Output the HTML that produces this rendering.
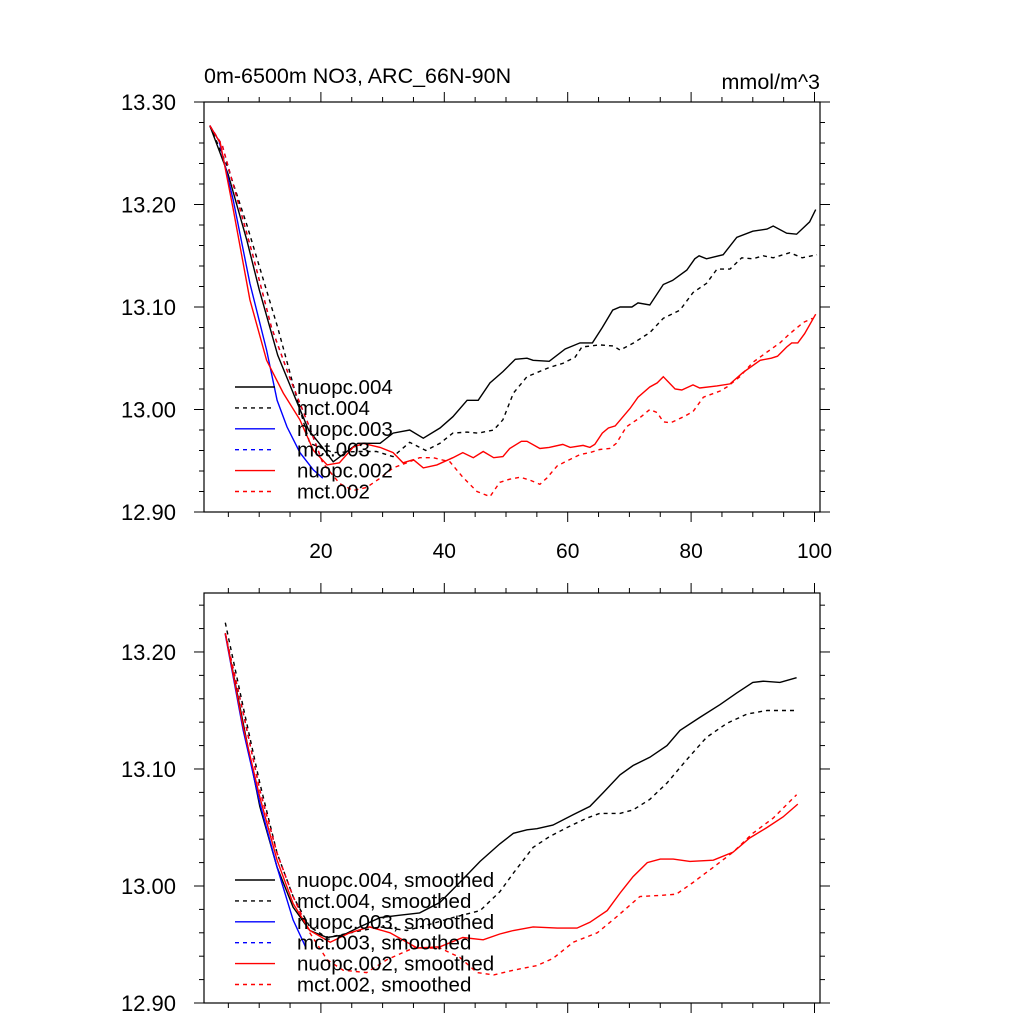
<!DOCTYPE html>
<html><head><meta charset="utf-8"><style>
body{margin:0;background:#fff;}
svg{display:block;font-family:"Liberation Sans",sans-serif;}
</style></head><body>
<svg id="chart" width="1024" height="1024" viewBox="0 0 1024 1024">
<text x="204" y="83" font-size="21.5">0m-6500m NO3, ARC_66N-90N</text>
<text x="820" y="89" font-size="21.5" text-anchor="end">mmol/m^3</text>
</svg>
<script>
// ---- top panel data (raw) ----
const n004X=[2,5,8,10,13,16,18,20,22,26,29.6,31.7,34.4,36.6,39.3,41.4,43.7,45.5,47.4,49.5,51.5,53.4,54.4,57,59.6,62,64,65.6,67.3,68.5,70.4,71.4,73.3,75.5,77,79.3,80.6,81.3,82.5,85.2,87.4,90,92.3,93.3,95.5,97.1,99.2,100.2];
const n004Y=[13.277,13.229,13.165,13.117,13.053,13.009,12.98,12.965,12.949,12.967,12.967,12.977,12.98,12.972,12.982,12.993,13.009,13.009,13.026,13.037,13.049,13.05,13.048,13.047,13.059,13.065,13.065,13.08,13.097,13.1,13.1,13.104,13.102,13.122,13.126,13.136,13.147,13.15,13.147,13.151,13.168,13.174,13.176,13.179,13.172,13.171,13.183,13.195];
const m004X=[2,5,8,13,16.6,18.2,22,26,29,31.7,34.4,37,39.3,41.4,43.7,45.5,48,49.5,51.2,53.4,55,57,59.2,61.2,62.3,65.2,67.4,68.5,70.7,73.3,75.5,78.2,80.3,82.5,84.2,86.3,88.2,90,91.7,93.3,96,98,100.4];
const m004Y=[13.277,13.235,13.18,13.08,13.0,12.967,12.958,12.959,12.959,12.954,12.968,12.96,12.967,12.977,12.978,12.977,12.98,12.99,13.016,13.032,13.036,13.041,13.045,13.051,13.061,13.063,13.062,13.058,13.065,13.075,13.089,13.097,13.114,13.123,13.137,13.137,13.148,13.147,13.15,13.148,13.153,13.148,13.151];
const n003X=[2,3.5,5.8,8.5,11.2,12.9,14.5,16.6,18.8,20.3];
const n003Y=[13.277,13.262,13.204,13.123,13.058,13.009,12.983,12.958,12.941,12.933];
const m003X=[2,4,6,9,12,15,18,20.3];
const m003Y=[13.277,13.258,13.215,13.15,13.08,13.03,12.985,12.948];
const n002X=[2,3.7,5.8,8.5,11.2,13.9,16.6,18.8,21,23,25.2,26.8,29.6,31.7,33.3,35,36.6,38.8,41.4,43,44.7,46.3,48,49.5,50.6,52.5,53.4,55.5,57,59.2,60.4,62.5,63.6,64.4,65.6,66.6,67.7,70.1,71.4,73.3,74.5,75.5,77.4,78.5,80.3,81.4,84.2,86.3,88.4,91.2,93,94,95.5,96.3,97.3,98.4,100.2];
const n002Y=[13.277,13.26,13.195,13.107,13.048,13.016,12.99,12.96,12.946,12.948,12.963,12.967,12.963,12.958,12.948,12.951,12.943,12.946,12.953,12.958,12.953,12.959,12.953,12.954,12.962,12.969,12.969,12.962,12.963,12.966,12.963,12.965,12.963,12.966,12.977,12.982,12.984,13.001,13.012,13.022,13.026,13.032,13.02,13.019,13.024,13.021,13.023,13.025,13.036,13.048,13.05,13.052,13.061,13.065,13.065,13.074,13.093];
const m002X=[2,4,6,9,12,15,18,20.3,23,25.2,27.4,29.6,31.7,33.9,36,38.2,40.9,43,45.3,47.4,49,50.6,52.3,53.9,55.5,56.6,58.3,59.9,62,63.6,65.2,66.8,67.9,69.5,71.7,73.3,74.5,75.5,76.7,78.8,80.3,82,84.7,85.8,87.9,90,92.3,94.4,96,98.2,99.7];
const m002Y=[13.277,13.258,13.215,13.15,13.08,13.03,12.985,12.948,12.928,12.921,12.924,12.933,12.943,12.948,12.953,12.953,12.949,12.934,12.92,12.915,12.929,12.932,12.934,12.931,12.927,12.933,12.945,12.95,12.956,12.958,12.961,12.962,12.967,12.983,12.992,13.0,12.997,12.988,12.987,12.993,12.998,13.012,13.018,13.022,13.032,13.046,13.056,13.065,13.074,13.085,13.089];
// ---- bottom panel data (smoothed) ----
const sn004X=[4.5,7.4,10.1,12.9,15.5,18.2,21,23.6,26.3,29.6,32.8,36,39.3,42.5,45.8,49,51.2,53.4,55,57.6,60.9,63.6,65.8,68.5,70.6,73.3,76.1,78.2,81.4,84.7,87.4,90,91.7,94.4,97.1];
const sn004Y=[13.216,13.139,13.068,13.016,12.982,12.962,12.956,12.958,12.965,12.973,12.975,12.977,12.986,13.003,13.021,13.036,13.045,13.048,13.049,13.052,13.061,13.068,13.08,13.095,13.103,13.11,13.12,13.133,13.144,13.155,13.165,13.174,13.175,13.174,13.178];
const sm004X=[4.5,7.4,10.1,12.9,15.5,18.2,21,29.6,33.9,38.2,41.4,45.8,49,51.2,54.4,57,59.9,63.1,65.2,68.5,70.6,73.3,76.1,79.3,82.5,85.8,89.1,92.3,94.4,97.1];
const sm004Y=[13.225,13.153,13.088,13.028,12.991,12.965,12.956,12.965,12.962,12.968,12.973,12.979,12.995,13.011,13.033,13.042,13.05,13.058,13.062,13.062,13.065,13.074,13.088,13.108,13.127,13.139,13.147,13.15,13.15,13.15];
const sn003X=[4.5,7.4,10.1,12.9,15.5,17.5];
const sn003Y=[13.215,13.133,13.071,13.016,12.971,12.948];
const sm003X=[4.5,7.4,10.1,12.9,15.5,18.2];
const sm003Y=[13.216,13.148,13.082,13.028,12.991,12.96];
const sn002X=[4.5,7.4,10.1,12.9,15.5,18.2,21.5,24.7,27.9,31.2,35.6,39.3,43,46.3,49,51.2,54.4,58.3,61.5,63.6,66.4,68.5,70.6,72.9,75,77.1,79.8,83.6,86.8,89.5,92.3,94.9,97.3];
const sn002Y=[13.216,13.136,13.076,13.022,12.985,12.962,12.952,12.96,12.965,12.96,12.947,12.948,12.956,12.954,12.959,12.962,12.965,12.964,12.964,12.969,12.979,12.994,13.008,13.02,13.023,13.023,13.021,13.022,13.029,13.041,13.05,13.059,13.07];
const sm002X=[4.5,7.4,10.1,12.9,15.5,18.2,21,23.6,27.4,30.7,35,39.3,42.5,45.3,48,51.2,55,57.6,60.9,64.8,68,71.7,75,77.6,80.3,83.6,86.8,90,93.3,97.1];
const sm002Y=[13.216,13.148,13.082,13.028,12.991,12.96,12.937,12.928,12.926,12.937,12.947,12.947,12.939,12.926,12.924,12.928,12.932,12.938,12.952,12.96,12.974,12.991,12.992,12.993,13.003,13.016,13.029,13.045,13.058,13.078];
const topTicks=["12.90","13.00","13.10","13.20","13.30"];
const botTicks=["12.90","13.00","13.10","13.20"];
const xTicks=["20","40","60","80","100"];
const legTop=["nuopc.004","mct.004","nuopc.003","mct.003","nuopc.002","mct.002"];
const legBot=["nuopc.004, smoothed","mct.004, smoothed","nuopc.003, smoothed","mct.003, smoothed","nuopc.002, smoothed","mct.002, smoothed"];

const NS="http://www.w3.org/2000/svg";
const svg=document.getElementById('chart');
function mk(tag,attrs,parent){const e=document.createElementNS(NS,tag);for(const k in attrs)e.setAttribute(k,attrs[k]);(parent||svg).appendChild(e);return e;}
const X0=204,X1=820;
function sx(v){return 197.5+6.17*v;}
function panel(top,bottom,ymin,ymax,yLabels,showX,series,legend,legY,name){
  const g=mk('g',{});
  
  
  const sy=v=>bottom-(v-ymin)/(ymax-ymin)*(bottom-top);
  const fr=mk('rect',{x:X0,y:top,width:X1-X0,height:bottom-top,fill:'none',stroke:'#000','stroke-width':1.2},g);
  
  
  for(let i=0;;i++){const v=ymin+i*0.02;if(v>ymax+1e-6)break;const y=sy(v);const maj=i%5==0;const L=maj?10:5;
    mk('line',{x1:X0-L,x2:X0,y1:y,y2:y,stroke:'#000','stroke-width':1},g);
    mk('line',{x1:X1,x2:X1+L,y1:y,y2:y,stroke:'#000','stroke-width':1},g);}
  yLabels.forEach(s=>{const v=parseFloat(s);const t=mk('text',{x:176,y:sy(v)+8,'font-size':22,'text-anchor':'end'},g);t.textContent=s;
    
    });
  for(let v=5;v<=100;v+=5){const x=sx(v);const L=v%20==0?10:5;
    mk('line',{x1:x,x2:x,y1:bottom,y2:bottom+L,stroke:'#000','stroke-width':1},g);
    mk('line',{x1:x,x2:x,y1:top-L,y2:top,stroke:'#000','stroke-width':1},g);}
  if(showX) xTicks.forEach(s=>{const t=mk('text',{x:sx(+s),y:bottom+46,'font-size':21,'text-anchor':'middle'},g);t.textContent=s;
    
    });
  series.forEach((s,i)=>{const d=s.x.map((v,j)=>(j?'L':'M')+sx(v).toFixed(1)+','+sy(s.y[j]).toFixed(1)).join('');
    const p=mk('path',{d:d,fill:'none',stroke:s.c,'stroke-width':1.4,'stroke-dasharray':s.dash?'4,4':'none'},g);
    
    });
  series.forEach((s,i)=>{const y=legY+i*20.9;
    const l=mk('line',{x1:235,x2:275,y1:y,y2:y,stroke:s.c,'stroke-width':1.4,'stroke-dasharray':s.dash?'4,4':'none'},g);
    
    
    const t=mk('text',{x:297,y:y+7,'font-size':20.5},g);t.textContent=legend[i];
    
    });
}
const K='#000',R='#ff0000',B='#0000ff';
panel(102,512,12.90,13.30,topTicks,true,[
 {x:n004X,y:n004Y,c:K},{x:m004X,y:m004Y,c:K,dash:1},{x:n003X,y:n003Y,c:B},{x:m003X,y:m003Y,c:B,dash:1},{x:n002X,y:n002Y,c:R},{x:m002X,y:m002Y,c:R,dash:1}],legTop,387,'top-panel');
panel(593,1003,12.90,13.2504,botTicks,false,[
 {x:sn004X,y:sn004Y,c:K},{x:sm004X,y:sm004Y,c:K,dash:1},{x:sn003X,y:sn003Y,c:B},{x:sm003X,y:sm003Y,c:B,dash:1},{x:sn002X,y:sn002Y,c:R},{x:sm002X,y:sm002Y,c:R,dash:1}],legBot,880,'bottom-panel');
</script>
</body></html>
